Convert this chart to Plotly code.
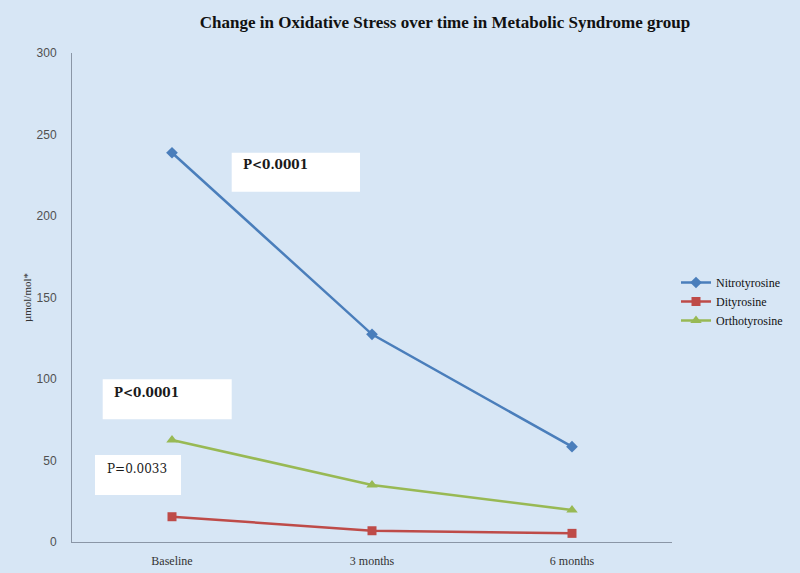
import plotly.graph_objects as go

categories = ["Baseline", "3 months", "6 months"]
nitrotyrosine = [238.8, 127.4, 58.5]
dityrosine = [15.5, 6.9, 5.3]
orthotyrosine = [62.6, 35.0, 19.6]
y_ticks = [0, 50, 100, 150, 200, 250, 300]

W, H = 800, 573
L, R, T, B = 72, 128, 53, 31
PW, PH = W - L - R, H - T - B


def px(x):
    return (x - L) / PW


def py(y):
    return (H - B - y) / PH


fig = go.Figure()
fig.add_trace(go.Scatter(x=categories, y=nitrotyrosine, name="Nitrotyrosine",
                         mode="lines+markers",
                         line=dict(color="#4a7ebb", width=2.5),
                         marker=dict(symbol="diamond", size=9, color="#4a7ebb")))
fig.add_trace(go.Scatter(x=categories, y=dityrosine, name="Dityrosine",
                         mode="lines+markers",
                         line=dict(color="#be4b48", width=2.5),
                         marker=dict(symbol="square", size=9, color="#be4b48")))
fig.add_trace(go.Scatter(x=categories, y=orthotyrosine, name="Orthotyrosine",
                         mode="lines+markers",
                         line=dict(color="#98b954", width=2.5),
                         marker=dict(symbol="triangle-up", size=10, color="#98b954")))

boxes = [
    ((231.7, 152.7, 360, 191.7), (241, 164.5), "<b>P<0.0001</b>"),
    ((102.7, 379.3, 231.7, 419.3), (112, 392.5), "<b>P<0.0001</b>"),
    ((95, 455, 181, 495), (105, 469), "P=0.0033"),
]
shapes = []
annotations = []
for (x0, y0, x1, y1), (tx, ty), txt in boxes:
    shapes.append(dict(type="rect", xref="paper", yref="paper",
                       x0=px(x0), x1=px(x1), y0=py(y1), y1=py(y0),
                       fillcolor="white", line=dict(width=0), layer="above"))
    annotations.append(dict(xref="paper", yref="paper", x=px(tx), y=py(ty),
                            xanchor="left", yanchor="middle", text=txt,
                            showarrow=False,
                            font=dict(family="DejaVu Serif", size=12, color="#1a1a1a")))

bg = "#d7e6f5"
fig.update_layout(
    width=W, height=H,
    margin=dict(l=L, r=R, t=T, b=B, autoexpand=False),
    paper_bgcolor=bg, plot_bgcolor=bg,
    title=dict(text="<b>Change in Oxidative Stress over time in Metabolic Syndrome group</b>",
               x=445 / W, xanchor="center", y=1 - 22 / H, yanchor="middle",
               font=dict(family="Liberation Serif", size=17, color="#111111")),
    xaxis=dict(range=[-0.5, 2.5], showgrid=False, zeroline=False, automargin=False,
               showline=True, linecolor="#8a96a6", linewidth=1,
               tickfont=dict(family="Liberation Serif", size=12, color="#333333"),
               ticks="", ticklabelstandoff=8),
    yaxis=dict(range=[0, 300], tickvals=y_ticks, showgrid=False, zeroline=False,
               automargin=False,
               showline=True, linecolor="#8a96a6", linewidth=1,
               tickfont=dict(family="Liberation Sans", size=12, color="#505050"),
               ticks="", ticklabelstandoff=12,
               title=dict(text="µmol/mol*", standoff=2,
                          font=dict(family="Liberation Serif", size=11, color="#333333"))),
    legend=dict(x=px(676), y=py(268), xanchor="left", yanchor="top",
                bgcolor="rgba(0,0,0,0)", itemwidth=30,
                font=dict(family="Liberation Serif", size=12, color="#111111"),
                tracegroupgap=1),
    shapes=shapes,
    annotations=annotations,
    showlegend=True,
)

fig.write_html("out.html", config={"displayModeBar": False},
               post_script="document.body.style.margin='0';document.body.style.overflow='hidden';")
